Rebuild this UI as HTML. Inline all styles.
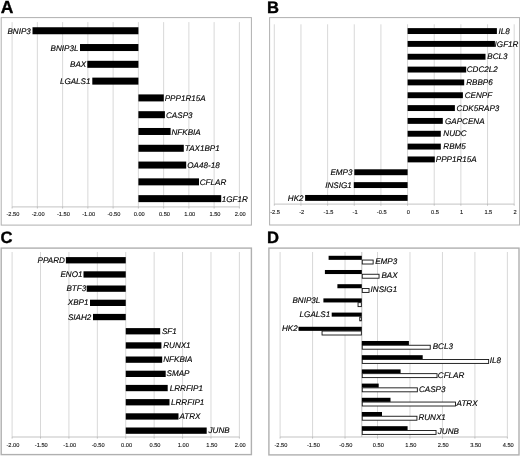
<!DOCTYPE html>
<html><head><meta charset="utf-8"><title>Figure</title>
<style>
html,body{margin:0;padding:0;background:#fff;}
svg{display:block;filter:blur(0.3px);text-rendering:geometricPrecision;font-family:'Liberation Sans', Arial, sans-serif;}
</style></head>
<body>
<svg width="520" height="457" viewBox="0 0 520 457">
<rect width="520" height="457" fill="#fff"/>
<text x="0.7" y="13.2" font-size="17.5" font-weight="bold" stroke="#000" stroke-width="0.35">A</text>
<rect x="1.2" y="17.6" width="250.20000000000002" height="207.5" fill="#fff" stroke="#b0b0b0" stroke-width="1.0"/>
<line x1="12.1" y1="22.1" x2="12.1" y2="206.9" stroke="#cecece" stroke-width="0.8"/>
<line x1="37.355" y1="22.1" x2="37.355" y2="206.9" stroke="#cecece" stroke-width="0.8"/>
<line x1="62.61" y1="22.1" x2="62.61" y2="206.9" stroke="#cecece" stroke-width="0.8"/>
<line x1="87.865" y1="22.1" x2="87.865" y2="206.9" stroke="#cecece" stroke-width="0.8"/>
<line x1="113.11999999999999" y1="22.1" x2="113.11999999999999" y2="206.9" stroke="#cecece" stroke-width="0.8"/>
<line x1="138.375" y1="22.1" x2="138.375" y2="206.9" stroke="#cecece" stroke-width="0.8"/>
<line x1="163.63" y1="22.1" x2="163.63" y2="206.9" stroke="#cecece" stroke-width="0.8"/>
<line x1="188.885" y1="22.1" x2="188.885" y2="206.9" stroke="#cecece" stroke-width="0.8"/>
<line x1="214.14" y1="22.1" x2="214.14" y2="206.9" stroke="#cecece" stroke-width="0.8"/>
<line x1="239.39499999999998" y1="22.1" x2="239.39499999999998" y2="206.9" stroke="#cecece" stroke-width="0.8"/>
<line x1="12.1" y1="206.9" x2="239.39499999999998" y2="206.9" stroke="#b4b4b4" stroke-width="0.8"/>
<line x1="12.1" y1="206.9" x2="12.1" y2="208.5" stroke="#b4b4b4" stroke-width="0.8"/>
<text x="12.90" y="216.3" font-size="5.7" text-anchor="middle" fill="#111" stroke="#111" stroke-width="0.1">-2.50</text>
<line x1="37.355" y1="206.9" x2="37.355" y2="208.5" stroke="#b4b4b4" stroke-width="0.8"/>
<text x="38.15" y="216.3" font-size="5.7" text-anchor="middle" fill="#111" stroke="#111" stroke-width="0.1">-2.00</text>
<line x1="62.61" y1="206.9" x2="62.61" y2="208.5" stroke="#b4b4b4" stroke-width="0.8"/>
<text x="63.41" y="216.3" font-size="5.7" text-anchor="middle" fill="#111" stroke="#111" stroke-width="0.1">-1.50</text>
<line x1="87.865" y1="206.9" x2="87.865" y2="208.5" stroke="#b4b4b4" stroke-width="0.8"/>
<text x="88.66" y="216.3" font-size="5.7" text-anchor="middle" fill="#111" stroke="#111" stroke-width="0.1">-1.00</text>
<line x1="113.11999999999999" y1="206.9" x2="113.11999999999999" y2="208.5" stroke="#b4b4b4" stroke-width="0.8"/>
<text x="113.92" y="216.3" font-size="5.7" text-anchor="middle" fill="#111" stroke="#111" stroke-width="0.1">-0.50</text>
<line x1="138.375" y1="206.9" x2="138.375" y2="208.5" stroke="#b4b4b4" stroke-width="0.8"/>
<text x="139.18" y="216.3" font-size="5.7" text-anchor="middle" fill="#111" stroke="#111" stroke-width="0.1">0.00</text>
<line x1="163.63" y1="206.9" x2="163.63" y2="208.5" stroke="#b4b4b4" stroke-width="0.8"/>
<text x="164.43" y="216.3" font-size="5.7" text-anchor="middle" fill="#111" stroke="#111" stroke-width="0.1">0.50</text>
<line x1="188.885" y1="206.9" x2="188.885" y2="208.5" stroke="#b4b4b4" stroke-width="0.8"/>
<text x="189.69" y="216.3" font-size="5.7" text-anchor="middle" fill="#111" stroke="#111" stroke-width="0.1">1.00</text>
<line x1="214.14" y1="206.9" x2="214.14" y2="208.5" stroke="#b4b4b4" stroke-width="0.8"/>
<text x="214.94" y="216.3" font-size="5.7" text-anchor="middle" fill="#111" stroke="#111" stroke-width="0.1">1.50</text>
<line x1="239.39499999999998" y1="206.9" x2="239.39499999999998" y2="208.5" stroke="#b4b4b4" stroke-width="0.8"/>
<text x="240.19" y="216.3" font-size="5.7" text-anchor="middle" fill="#111" stroke="#111" stroke-width="0.1">2.00</text>
<rect x="32.50" y="27.25" width="105.90" height="7.00" fill="#000"/>
<rect x="80.00" y="44.03" width="58.40" height="7.00" fill="#000"/>
<rect x="87.30" y="60.82" width="51.10" height="7.00" fill="#000"/>
<rect x="92.30" y="77.62" width="46.10" height="7.00" fill="#000"/>
<rect x="138.40" y="94.41" width="25.40" height="7.00" fill="#000"/>
<rect x="138.40" y="111.19" width="26.50" height="7.00" fill="#000"/>
<rect x="138.40" y="127.98" width="32.20" height="7.00" fill="#000"/>
<rect x="138.40" y="144.78" width="45.40" height="7.00" fill="#000"/>
<rect x="138.40" y="161.56" width="47.80" height="7.00" fill="#000"/>
<rect x="138.40" y="178.35" width="60.60" height="7.00" fill="#000"/>
<rect x="138.40" y="195.14" width="82.80" height="7.00" fill="#000"/>
<text x="30.8" y="33.7" font-size="8.1" font-style="italic" text-anchor="end" stroke="#000" stroke-width="0.13">BNIP3</text>
<text x="78.5" y="50.5" font-size="8.1" font-style="italic" text-anchor="end" stroke="#000" stroke-width="0.13">BNIP3L</text>
<text x="86.2" y="67.3" font-size="8.1" font-style="italic" text-anchor="end" stroke="#000" stroke-width="0.13">BAX</text>
<text x="90.5" y="84.1" font-size="8.1" font-style="italic" text-anchor="end" stroke="#000" stroke-width="0.13">LGALS1</text>
<text x="164.7" y="100.9" font-size="8.1" font-style="italic" text-anchor="start" stroke="#000" stroke-width="0.13">PPP1R15A</text>
<text x="166.0" y="117.7" font-size="8.1" font-style="italic" text-anchor="start" stroke="#000" stroke-width="0.13">CASP3</text>
<text x="171.5" y="134.5" font-size="8.1" font-style="italic" text-anchor="start" stroke="#000" stroke-width="0.13">NFKBIA</text>
<text x="184.8" y="151.3" font-size="8.1" font-style="italic" text-anchor="start" stroke="#000" stroke-width="0.13">TAX1BP1</text>
<text x="187.3" y="168.1" font-size="8.1" font-style="italic" text-anchor="start" stroke="#000" stroke-width="0.13">OA48-18</text>
<text x="199.7" y="184.9" font-size="8.1" font-style="italic" text-anchor="start" stroke="#000" stroke-width="0.13">CFLAR</text>
<text x="221.8" y="201.6" font-size="8.1" font-style="italic" text-anchor="start" stroke="#000" stroke-width="0.13">1GF1R</text>
<text x="266.9" y="13.2" font-size="16.6" font-weight="bold" stroke="#000" stroke-width="0.35">B</text>
<rect x="269.6" y="17.6" width="250.0" height="207.4" fill="#fff" stroke="#b0b0b0" stroke-width="1.0"/>
<line x1="274.3" y1="24.3" x2="274.3" y2="204.1" stroke="#cecece" stroke-width="0.8"/>
<line x1="300.95500000000004" y1="24.3" x2="300.95500000000004" y2="204.1" stroke="#cecece" stroke-width="0.8"/>
<line x1="327.61" y1="24.3" x2="327.61" y2="204.1" stroke="#cecece" stroke-width="0.8"/>
<line x1="354.265" y1="24.3" x2="354.265" y2="204.1" stroke="#cecece" stroke-width="0.8"/>
<line x1="380.92" y1="24.3" x2="380.92" y2="204.1" stroke="#cecece" stroke-width="0.8"/>
<line x1="407.57500000000005" y1="24.3" x2="407.57500000000005" y2="204.1" stroke="#cecece" stroke-width="0.8"/>
<line x1="434.23" y1="24.3" x2="434.23" y2="204.1" stroke="#cecece" stroke-width="0.8"/>
<line x1="460.885" y1="24.3" x2="460.885" y2="204.1" stroke="#cecece" stroke-width="0.8"/>
<line x1="487.54" y1="24.3" x2="487.54" y2="204.1" stroke="#cecece" stroke-width="0.8"/>
<line x1="514.195" y1="24.3" x2="514.195" y2="204.1" stroke="#cecece" stroke-width="0.8"/>
<line x1="274.3" y1="204.1" x2="514.195" y2="204.1" stroke="#b4b4b4" stroke-width="0.8"/>
<line x1="274.3" y1="204.1" x2="274.3" y2="205.7" stroke="#b4b4b4" stroke-width="0.8"/>
<text x="275.10" y="214.0" font-size="5.7" text-anchor="middle" fill="#111" stroke="#111" stroke-width="0.1">-2.5</text>
<line x1="300.95500000000004" y1="204.1" x2="300.95500000000004" y2="205.7" stroke="#b4b4b4" stroke-width="0.8"/>
<text x="301.76" y="214.0" font-size="5.7" text-anchor="middle" fill="#111" stroke="#111" stroke-width="0.1">-2</text>
<line x1="327.61" y1="204.1" x2="327.61" y2="205.7" stroke="#b4b4b4" stroke-width="0.8"/>
<text x="328.41" y="214.0" font-size="5.7" text-anchor="middle" fill="#111" stroke="#111" stroke-width="0.1">-1.5</text>
<line x1="354.265" y1="204.1" x2="354.265" y2="205.7" stroke="#b4b4b4" stroke-width="0.8"/>
<text x="355.06" y="214.0" font-size="5.7" text-anchor="middle" fill="#111" stroke="#111" stroke-width="0.1">-1</text>
<line x1="380.92" y1="204.1" x2="380.92" y2="205.7" stroke="#b4b4b4" stroke-width="0.8"/>
<text x="381.72" y="214.0" font-size="5.7" text-anchor="middle" fill="#111" stroke="#111" stroke-width="0.1">-0.5</text>
<line x1="407.57500000000005" y1="204.1" x2="407.57500000000005" y2="205.7" stroke="#b4b4b4" stroke-width="0.8"/>
<text x="408.38" y="214.0" font-size="5.7" text-anchor="middle" fill="#111" stroke="#111" stroke-width="0.1">0</text>
<line x1="434.23" y1="204.1" x2="434.23" y2="205.7" stroke="#b4b4b4" stroke-width="0.8"/>
<text x="435.03" y="214.0" font-size="5.7" text-anchor="middle" fill="#111" stroke="#111" stroke-width="0.1">0.5</text>
<line x1="460.885" y1="204.1" x2="460.885" y2="205.7" stroke="#b4b4b4" stroke-width="0.8"/>
<text x="461.69" y="214.0" font-size="5.7" text-anchor="middle" fill="#111" stroke="#111" stroke-width="0.1">1</text>
<line x1="487.54" y1="204.1" x2="487.54" y2="205.7" stroke="#b4b4b4" stroke-width="0.8"/>
<text x="488.34" y="214.0" font-size="5.7" text-anchor="middle" fill="#111" stroke="#111" stroke-width="0.1">1.5</text>
<line x1="514.195" y1="204.1" x2="514.195" y2="205.7" stroke="#b4b4b4" stroke-width="0.8"/>
<text x="515.00" y="214.0" font-size="5.7" text-anchor="middle" fill="#111" stroke="#111" stroke-width="0.1">2</text>
<rect x="407.60" y="28.12" width="89.30" height="5.90" fill="#000"/>
<rect x="407.60" y="40.95" width="87.30" height="5.90" fill="#000"/>
<rect x="407.60" y="53.79" width="77.90" height="5.90" fill="#000"/>
<rect x="407.60" y="66.62" width="58.60" height="5.90" fill="#000"/>
<rect x="407.60" y="79.46" width="56.60" height="5.90" fill="#000"/>
<rect x="407.60" y="92.29" width="55.30" height="5.90" fill="#000"/>
<rect x="407.60" y="105.13" width="47.30" height="5.90" fill="#000"/>
<rect x="407.60" y="117.96" width="35.20" height="5.90" fill="#000"/>
<rect x="407.60" y="130.80" width="33.20" height="5.90" fill="#000"/>
<rect x="407.60" y="143.63" width="33.20" height="5.90" fill="#000"/>
<rect x="407.60" y="156.47" width="27.20" height="5.90" fill="#000"/>
<rect x="354.30" y="169.30" width="53.30" height="5.90" fill="#000"/>
<rect x="353.80" y="182.14" width="53.80" height="5.90" fill="#000"/>
<rect x="305.10" y="194.97" width="102.50" height="5.90" fill="#000"/>
<text x="498.6" y="33.8" font-size="8.1" font-style="italic" text-anchor="start" stroke="#000" stroke-width="0.13">IL8</text>
<text x="494.6" y="46.6" font-size="8.1" font-style="italic" text-anchor="start" stroke="#000" stroke-width="0.13">IGF1R</text>
<text x="487.3" y="59.4" font-size="8.1" font-style="italic" text-anchor="start" stroke="#000" stroke-width="0.13">BCL3</text>
<text x="466.7" y="72.3" font-size="8.1" font-style="italic" text-anchor="start" stroke="#000" stroke-width="0.13">CDC2L2</text>
<text x="466.2" y="85.1" font-size="8.1" font-style="italic" text-anchor="start" stroke="#000" stroke-width="0.13">RBBP6</text>
<text x="464.7" y="97.9" font-size="8.1" font-style="italic" text-anchor="start" stroke="#000" stroke-width="0.13">CENPF</text>
<text x="456.6" y="110.8" font-size="8.1" font-style="italic" text-anchor="start" stroke="#000" stroke-width="0.13">CDK5RAP3</text>
<text x="445.0" y="123.6" font-size="8.1" font-style="italic" text-anchor="start" stroke="#000" stroke-width="0.13">GAPCENA</text>
<text x="443.3" y="136.4" font-size="8.1" font-style="italic" text-anchor="start" stroke="#000" stroke-width="0.13">NUDC</text>
<text x="443.3" y="149.3" font-size="8.1" font-style="italic" text-anchor="start" stroke="#000" stroke-width="0.13">RBM5</text>
<text x="435.8" y="162.1" font-size="8.1" font-style="italic" text-anchor="start" stroke="#000" stroke-width="0.13">PPP1R15A</text>
<text x="352.5" y="175.0" font-size="8.1" font-style="italic" text-anchor="end" stroke="#000" stroke-width="0.13">EMP3</text>
<text x="351.8" y="187.8" font-size="8.1" font-style="italic" text-anchor="end" stroke="#000" stroke-width="0.13">INSIG1</text>
<text x="303.6" y="200.6" font-size="8.1" font-style="italic" text-anchor="end" stroke="#000" stroke-width="0.13">HK2</text>
<text x="0.4" y="243.1" font-size="16.6" font-weight="bold" stroke="#000" stroke-width="0.35">C</text>
<rect x="1.2" y="248.1" width="250.20000000000002" height="206.50000000000003" fill="#fff" stroke="#b0b0b0" stroke-width="1.4"/>
<line x1="12.1" y1="252.0" x2="12.1" y2="437.0" stroke="#cecece" stroke-width="0.8"/>
<line x1="40.51" y1="252.0" x2="40.51" y2="437.0" stroke="#cecece" stroke-width="0.8"/>
<line x1="68.92" y1="252.0" x2="68.92" y2="437.0" stroke="#cecece" stroke-width="0.8"/>
<line x1="97.33" y1="252.0" x2="97.33" y2="437.0" stroke="#cecece" stroke-width="0.8"/>
<line x1="125.74" y1="252.0" x2="125.74" y2="437.0" stroke="#cecece" stroke-width="0.8"/>
<line x1="154.15" y1="252.0" x2="154.15" y2="437.0" stroke="#cecece" stroke-width="0.8"/>
<line x1="182.56" y1="252.0" x2="182.56" y2="437.0" stroke="#cecece" stroke-width="0.8"/>
<line x1="210.97" y1="252.0" x2="210.97" y2="437.0" stroke="#cecece" stroke-width="0.8"/>
<line x1="239.38" y1="252.0" x2="239.38" y2="437.0" stroke="#cecece" stroke-width="0.8"/>
<line x1="12.1" y1="437.0" x2="239.38" y2="437.0" stroke="#b4b4b4" stroke-width="0.8"/>
<line x1="12.1" y1="437.0" x2="12.1" y2="438.6" stroke="#b4b4b4" stroke-width="0.8"/>
<text x="12.90" y="446.6" font-size="5.7" text-anchor="middle" fill="#111" stroke="#111" stroke-width="0.1">-2.00</text>
<line x1="40.51" y1="437.0" x2="40.51" y2="438.6" stroke="#b4b4b4" stroke-width="0.8"/>
<text x="41.31" y="446.6" font-size="5.7" text-anchor="middle" fill="#111" stroke="#111" stroke-width="0.1">-1.50</text>
<line x1="68.92" y1="437.0" x2="68.92" y2="438.6" stroke="#b4b4b4" stroke-width="0.8"/>
<text x="69.72" y="446.6" font-size="5.7" text-anchor="middle" fill="#111" stroke="#111" stroke-width="0.1">-1.00</text>
<line x1="97.33" y1="437.0" x2="97.33" y2="438.6" stroke="#b4b4b4" stroke-width="0.8"/>
<text x="98.13" y="446.6" font-size="5.7" text-anchor="middle" fill="#111" stroke="#111" stroke-width="0.1">-0.50</text>
<line x1="125.74" y1="437.0" x2="125.74" y2="438.6" stroke="#b4b4b4" stroke-width="0.8"/>
<text x="126.54" y="446.6" font-size="5.7" text-anchor="middle" fill="#111" stroke="#111" stroke-width="0.1">0.00</text>
<line x1="154.15" y1="437.0" x2="154.15" y2="438.6" stroke="#b4b4b4" stroke-width="0.8"/>
<text x="154.95" y="446.6" font-size="5.7" text-anchor="middle" fill="#111" stroke="#111" stroke-width="0.1">0.50</text>
<line x1="182.56" y1="437.0" x2="182.56" y2="438.6" stroke="#b4b4b4" stroke-width="0.8"/>
<text x="183.36" y="446.6" font-size="5.7" text-anchor="middle" fill="#111" stroke="#111" stroke-width="0.1">1.00</text>
<line x1="210.97" y1="437.0" x2="210.97" y2="438.6" stroke="#b4b4b4" stroke-width="0.8"/>
<text x="211.77" y="446.6" font-size="5.7" text-anchor="middle" fill="#111" stroke="#111" stroke-width="0.1">1.50</text>
<line x1="239.38" y1="437.0" x2="239.38" y2="438.6" stroke="#b4b4b4" stroke-width="0.8"/>
<text x="240.18" y="446.6" font-size="5.7" text-anchor="middle" fill="#111" stroke="#111" stroke-width="0.1">2.00</text>
<rect x="65.90" y="257.10" width="59.85" height="6.30" fill="#000"/>
<rect x="83.50" y="271.30" width="42.25" height="6.30" fill="#000"/>
<rect x="86.70" y="285.50" width="39.05" height="6.30" fill="#000"/>
<rect x="90.00" y="299.70" width="35.75" height="6.30" fill="#000"/>
<rect x="93.00" y="313.90" width="32.75" height="6.30" fill="#000"/>
<rect x="125.75" y="328.10" width="34.45" height="6.30" fill="#000"/>
<rect x="125.75" y="342.30" width="35.65" height="6.30" fill="#000"/>
<rect x="125.75" y="356.50" width="36.45" height="6.30" fill="#000"/>
<rect x="125.75" y="370.70" width="39.95" height="6.30" fill="#000"/>
<rect x="125.75" y="384.90" width="41.95" height="6.30" fill="#000"/>
<rect x="125.75" y="399.10" width="43.75" height="6.30" fill="#000"/>
<rect x="125.75" y="413.30" width="52.75" height="6.30" fill="#000"/>
<rect x="125.75" y="427.50" width="80.95" height="6.30" fill="#000"/>
<text x="64.9" y="262.7" font-size="8.1" font-style="italic" text-anchor="end" stroke="#000" stroke-width="0.13">PPARD</text>
<text x="82.5" y="276.9" font-size="8.1" font-style="italic" text-anchor="end" stroke="#000" stroke-width="0.13">ENO1</text>
<text x="86.2" y="291.1" font-size="8.1" font-style="italic" text-anchor="end" stroke="#000" stroke-width="0.13">BTF3</text>
<text x="88.5" y="305.3" font-size="8.1" font-style="italic" text-anchor="end" stroke="#000" stroke-width="0.13">XBP1</text>
<text x="91.3" y="319.5" font-size="8.1" font-style="italic" text-anchor="end" stroke="#000" stroke-width="0.13">SIAH2</text>
<text x="161.9" y="333.7" font-size="8.1" font-style="italic" text-anchor="start" stroke="#000" stroke-width="0.13">SF1</text>
<text x="163.2" y="347.9" font-size="8.1" font-style="italic" text-anchor="start" stroke="#000" stroke-width="0.13">RUNX1</text>
<text x="163.2" y="362.1" font-size="8.1" font-style="italic" text-anchor="start" stroke="#000" stroke-width="0.13">NFKBIA</text>
<text x="166.5" y="376.3" font-size="8.1" font-style="italic" text-anchor="start" stroke="#000" stroke-width="0.13">SMAP</text>
<text x="169.7" y="390.5" font-size="8.1" font-style="italic" text-anchor="start" stroke="#000" stroke-width="0.13">LRRFIP1</text>
<text x="171.0" y="404.7" font-size="8.1" font-style="italic" text-anchor="start" stroke="#000" stroke-width="0.13">LRRFIP1</text>
<text x="179.5" y="418.9" font-size="8.1" font-style="italic" text-anchor="start" stroke="#000" stroke-width="0.13">ATRX</text>
<text x="208.5" y="433.1" font-size="8.1" font-style="italic" text-anchor="start" stroke="#000" stroke-width="0.13">JUNB</text>
<text x="266.9" y="243.0" font-size="16.6" font-weight="bold" stroke="#000" stroke-width="0.35">D</text>
<rect x="268.9" y="248.1" width="250.10000000000002" height="206.79999999999998" fill="#fff" stroke="#b0b0b0" stroke-width="1.4"/>
<line x1="280.1" y1="252.0" x2="280.1" y2="437.0" stroke="#cecece" stroke-width="0.8"/>
<line x1="312.57000000000005" y1="252.0" x2="312.57000000000005" y2="437.0" stroke="#cecece" stroke-width="0.8"/>
<line x1="345.04" y1="252.0" x2="345.04" y2="437.0" stroke="#cecece" stroke-width="0.8"/>
<line x1="377.51" y1="252.0" x2="377.51" y2="437.0" stroke="#cecece" stroke-width="0.8"/>
<line x1="409.98" y1="252.0" x2="409.98" y2="437.0" stroke="#cecece" stroke-width="0.8"/>
<line x1="442.45000000000005" y1="252.0" x2="442.45000000000005" y2="437.0" stroke="#cecece" stroke-width="0.8"/>
<line x1="474.92" y1="252.0" x2="474.92" y2="437.0" stroke="#cecece" stroke-width="0.8"/>
<line x1="507.39" y1="252.0" x2="507.39" y2="437.0" stroke="#cecece" stroke-width="0.8"/>
<line x1="280.1" y1="437.0" x2="507.39" y2="437.0" stroke="#b4b4b4" stroke-width="0.8"/>
<line x1="280.1" y1="437.0" x2="280.1" y2="438.6" stroke="#b4b4b4" stroke-width="0.8"/>
<text x="280.90" y="446.6" font-size="5.7" text-anchor="middle" fill="#111" stroke="#111" stroke-width="0.1">-2.50</text>
<line x1="312.57000000000005" y1="437.0" x2="312.57000000000005" y2="438.6" stroke="#b4b4b4" stroke-width="0.8"/>
<text x="313.37" y="446.6" font-size="5.7" text-anchor="middle" fill="#111" stroke="#111" stroke-width="0.1">-1.50</text>
<line x1="345.04" y1="437.0" x2="345.04" y2="438.6" stroke="#b4b4b4" stroke-width="0.8"/>
<text x="345.84" y="446.6" font-size="5.7" text-anchor="middle" fill="#111" stroke="#111" stroke-width="0.1">-0.50</text>
<line x1="377.51" y1="437.0" x2="377.51" y2="438.6" stroke="#b4b4b4" stroke-width="0.8"/>
<text x="378.31" y="446.6" font-size="5.7" text-anchor="middle" fill="#111" stroke="#111" stroke-width="0.1">0.50</text>
<line x1="409.98" y1="437.0" x2="409.98" y2="438.6" stroke="#b4b4b4" stroke-width="0.8"/>
<text x="410.78" y="446.6" font-size="5.7" text-anchor="middle" fill="#111" stroke="#111" stroke-width="0.1">1.50</text>
<line x1="442.45000000000005" y1="437.0" x2="442.45000000000005" y2="438.6" stroke="#b4b4b4" stroke-width="0.8"/>
<text x="443.25" y="446.6" font-size="5.7" text-anchor="middle" fill="#111" stroke="#111" stroke-width="0.1">2.50</text>
<line x1="474.92" y1="437.0" x2="474.92" y2="438.6" stroke="#b4b4b4" stroke-width="0.8"/>
<text x="475.72" y="446.6" font-size="5.7" text-anchor="middle" fill="#111" stroke="#111" stroke-width="0.1">3.50</text>
<line x1="507.39" y1="437.0" x2="507.39" y2="438.6" stroke="#b4b4b4" stroke-width="0.8"/>
<text x="508.19" y="446.6" font-size="5.7" text-anchor="middle" fill="#111" stroke="#111" stroke-width="0.1">4.50</text>
<line x1="361.8" y1="252.0" x2="361.8" y2="437.0" stroke="#b8b8b8" stroke-width="0.9"/>
<rect x="328.60" y="255.79" width="33.20" height="4.06" fill="#000"/>
<rect x="362.25" y="260.05" width="10.90" height="3.96" fill="#fff" stroke="#111" stroke-width="0.9"/>
<rect x="324.90" y="269.99" width="36.90" height="4.06" fill="#000"/>
<rect x="362.25" y="274.25" width="16.80" height="3.96" fill="#fff" stroke="#111" stroke-width="0.9"/>
<rect x="337.40" y="284.19" width="24.40" height="4.06" fill="#000"/>
<rect x="362.25" y="288.45" width="6.80" height="3.96" fill="#fff" stroke="#111" stroke-width="0.9"/>
<rect x="323.40" y="298.39" width="38.40" height="4.06" fill="#000"/>
<rect x="358.05" y="302.65" width="3.30" height="3.96" fill="#fff" stroke="#111" stroke-width="0.9"/>
<rect x="331.70" y="312.59" width="30.10" height="4.06" fill="#000"/>
<rect x="359.75" y="316.85" width="1.60" height="3.96" fill="#fff" stroke="#111" stroke-width="0.9"/>
<rect x="298.50" y="326.79" width="63.30" height="4.06" fill="#000"/>
<rect x="322.05" y="331.05" width="39.30" height="3.96" fill="#fff" stroke="#111" stroke-width="0.9"/>
<rect x="361.80" y="340.99" width="47.10" height="4.06" fill="#000"/>
<rect x="362.25" y="345.25" width="68.00" height="3.96" fill="#fff" stroke="#111" stroke-width="0.9"/>
<rect x="361.80" y="355.19" width="60.90" height="4.06" fill="#000"/>
<rect x="362.25" y="359.45" width="126.40" height="3.96" fill="#fff" stroke="#111" stroke-width="0.9"/>
<rect x="361.80" y="369.39" width="38.80" height="4.06" fill="#000"/>
<rect x="362.25" y="373.65" width="74.80" height="3.96" fill="#fff" stroke="#111" stroke-width="0.9"/>
<rect x="361.80" y="383.59" width="16.90" height="4.06" fill="#000"/>
<rect x="362.25" y="387.85" width="55.10" height="3.96" fill="#fff" stroke="#111" stroke-width="0.9"/>
<rect x="361.80" y="397.79" width="28.70" height="4.06" fill="#000"/>
<rect x="362.25" y="402.05" width="93.30" height="3.96" fill="#fff" stroke="#111" stroke-width="0.9"/>
<rect x="361.80" y="411.99" width="20.20" height="4.06" fill="#000"/>
<rect x="362.25" y="416.25" width="54.70" height="3.96" fill="#fff" stroke="#111" stroke-width="0.9"/>
<rect x="361.80" y="426.19" width="45.80" height="4.06" fill="#000"/>
<rect x="362.25" y="430.45" width="73.80" height="3.96" fill="#fff" stroke="#111" stroke-width="0.9"/>
<text x="375.2" y="264.1" font-size="8.1" font-style="italic" text-anchor="start" stroke="#000" stroke-width="0.13">EMP3</text>
<text x="381.4" y="278.2" font-size="8.1" font-style="italic" text-anchor="start" stroke="#000" stroke-width="0.13">BAX</text>
<text x="370.6" y="292.4" font-size="8.1" font-style="italic" text-anchor="start" stroke="#000" stroke-width="0.13">INSIG1</text>
<text x="320.3" y="302.6" font-size="8.1" font-style="italic" text-anchor="end" stroke="#000" stroke-width="0.13">BNIP3L</text>
<text x="330.2" y="316.8" font-size="8.1" font-style="italic" text-anchor="end" stroke="#000" stroke-width="0.13">LGALS1</text>
<text x="297.7" y="331.1" font-size="8.1" font-style="italic" text-anchor="end" stroke="#000" stroke-width="0.13">HK2</text>
<text x="432.7" y="349.2" font-size="8.1" font-style="italic" text-anchor="start" stroke="#000" stroke-width="0.13">BCL3</text>
<text x="489.8" y="363.4" font-size="8.1" font-style="italic" text-anchor="start" stroke="#000" stroke-width="0.13">IL8</text>
<text x="437.8" y="377.6" font-size="8.1" font-style="italic" text-anchor="start" stroke="#000" stroke-width="0.13">CFLAR</text>
<text x="418.9" y="391.8" font-size="8.1" font-style="italic" text-anchor="start" stroke="#000" stroke-width="0.13">CASP3</text>
<text x="456.6" y="406.1" font-size="8.1" font-style="italic" text-anchor="start" stroke="#000" stroke-width="0.13">ATRX</text>
<text x="418.4" y="420.2" font-size="8.1" font-style="italic" text-anchor="start" stroke="#000" stroke-width="0.13">RUNX1</text>
<text x="437.8" y="434.4" font-size="8.1" font-style="italic" text-anchor="start" stroke="#000" stroke-width="0.13">JUNB</text>
</svg>
</body></html>
